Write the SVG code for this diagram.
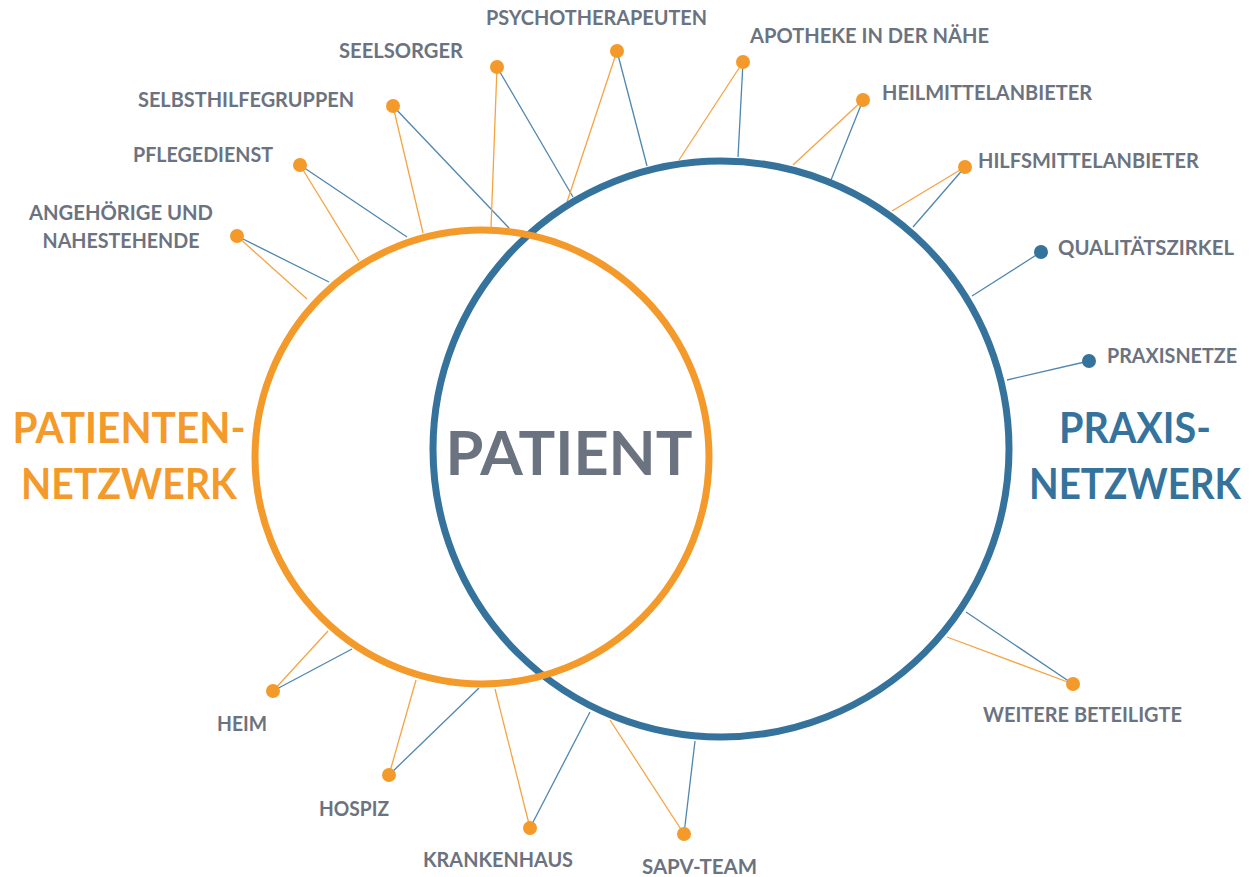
<svg xmlns="http://www.w3.org/2000/svg" width="1255" height="877" viewBox="0 0 1255 877">
<style>
.lbl{font-family:Lato,"Open Sans","Liberation Sans",sans-serif;font-weight:700;font-size:21px;fill:#6B7380}
.big{font-family:Lato,"Open Sans","Liberation Sans",sans-serif;font-weight:700;font-size:42px;text-anchor:middle}
.lo{stroke:#F5A443;stroke-width:1.3;fill:none}
.lb{stroke:#4F86AE;stroke-width:1.3;fill:none}
.do{fill:#F39A2B}
.db{fill:#35739D}
</style>
<rect width="1255" height="877" fill="#FFFFFF"/>
<g id="connectors">
<line class="lb" x1="237" y1="236" x2="329" y2="282"/>
<line class="lo" x1="237" y1="236" x2="307" y2="299"/>
<line class="lb" x1="300" y1="165" x2="407" y2="237"/>
<line class="lo" x1="300" y1="165" x2="359" y2="261"/>
<line class="lb" x1="393" y1="106" x2="509" y2="228"/>
<line class="lo" x1="393" y1="106" x2="423" y2="233"/>
<line class="lo" x1="497" y1="67" x2="491" y2="228"/>
<line class="lb" x1="497" y1="67" x2="573" y2="197"/>
<line class="lo" x1="617" y1="51" x2="567" y2="202"/>
<line class="lb" x1="617" y1="51" x2="647" y2="166"/>
<line class="lo" x1="743" y1="62" x2="679" y2="160"/>
<line class="lb" x1="743" y1="62" x2="738" y2="157"/>
<line class="lo" x1="863" y1="100" x2="793" y2="165"/>
<line class="lb" x1="863" y1="100" x2="831" y2="180"/>
<line class="lo" x1="965" y1="167" x2="892" y2="211"/>
<line class="lb" x1="965" y1="167" x2="913" y2="227"/>
<line class="lb" x1="1041" y1="252" x2="972" y2="296"/>
<line class="lb" x1="1089" y1="361" x2="1007" y2="380"/>
<line class="lb" x1="1073" y1="684" x2="966" y2="612"/>
<line class="lo" x1="1073" y1="684" x2="947" y2="637"/>
<line class="lo" x1="273" y1="691" x2="328" y2="631"/>
<line class="lb" x1="273" y1="691" x2="352" y2="649"/>
<line class="lo" x1="389" y1="775" x2="416" y2="680"/>
<line class="lb" x1="389" y1="775" x2="479" y2="688"/>
<line class="lo" x1="530" y1="828" x2="495" y2="689"/>
<line class="lb" x1="530" y1="828" x2="590" y2="712"/>
<line class="lo" x1="684" y1="834" x2="610" y2="720"/>
<line class="lb" x1="684" y1="834" x2="695" y2="741"/>
</g>
<g id="praxis-netzwerk">
<circle cx="721" cy="449" r="288" fill="none" stroke="#35739D" stroke-width="7"/>
<text class="big" x="1135" y="443" fill="#35739D" textLength="152" lengthAdjust="spacingAndGlyphs">PRAXIS-</text>
<text class="big" x="1135" y="499" fill="#35739D" font-size="40" textLength="212" lengthAdjust="spacingAndGlyphs">NETZWERK</text>
</g>
<g id="patienten-netzwerk">
<circle cx="482" cy="457" r="227" fill="none" stroke="#F39A2B" stroke-width="7"/>
<text class="big" x="129" y="443" fill="#F39A2B" textLength="233" lengthAdjust="spacingAndGlyphs">PATIENTEN-</text>
<text class="big" x="129" y="499" fill="#F39A2B" textLength="216" lengthAdjust="spacingAndGlyphs">NETZWERK</text>
</g>
<g id="patient">
<text x="569" y="475" font-family="Lato,'Open Sans','Liberation Sans',sans-serif" font-weight="700" font-size="61" fill="#6B7380" text-anchor="middle" textLength="247" lengthAdjust="spacingAndGlyphs">PATIENT</text>
</g>
<g id="angehoerige">
<circle class="do" cx="237" cy="236" r="7"/>
<text class="lbl" x="121" y="220" text-anchor="middle" textLength="184" lengthAdjust="spacingAndGlyphs">ANGEHÖRIGE UND</text>
<text class="lbl" x="121" y="248" text-anchor="middle" textLength="157" lengthAdjust="spacingAndGlyphs">NAHESTEHENDE</text>
</g>
<g id="pflegedienst">
<circle class="do" cx="300" cy="165" r="7"/>
<text class="lbl" x="133" y="162" textLength="140" lengthAdjust="spacingAndGlyphs">PFLEGEDIENST</text>
</g>
<g id="selbsthilfegruppen">
<circle class="do" cx="393" cy="106" r="7"/>
<text class="lbl" x="138" y="107" textLength="216" lengthAdjust="spacingAndGlyphs">SELBSTHILFEGRUPPEN</text>
</g>
<g id="seelsorger">
<circle class="do" cx="497" cy="67" r="7"/>
<text class="lbl" x="339" y="58" textLength="124" lengthAdjust="spacingAndGlyphs">SEELSORGER</text>
</g>
<g id="psychotherapeuten">
<circle class="do" cx="617" cy="51" r="7"/>
<text class="lbl" x="486" y="25" textLength="221" lengthAdjust="spacingAndGlyphs">PSYCHOTHERAPEUTEN</text>
</g>
<g id="apotheke">
<circle class="do" cx="743" cy="62" r="7"/>
<text class="lbl" x="750" y="43" textLength="239" lengthAdjust="spacingAndGlyphs">APOTHEKE IN DER NÄHE</text>
</g>
<g id="heilmittelanbieter">
<circle class="do" cx="863" cy="100" r="7"/>
<text class="lbl" x="882" y="100" textLength="210" lengthAdjust="spacingAndGlyphs">HEILMITTELANBIETER</text>
</g>
<g id="hilfsmittelanbieter">
<circle class="do" cx="965" cy="167" r="7"/>
<text class="lbl" x="978" y="168" textLength="221" lengthAdjust="spacingAndGlyphs">HILFSMITTELANBIETER</text>
</g>
<g id="qualitaetszirkel">
<circle class="db" cx="1041" cy="252" r="7"/>
<text class="lbl" x="1058" y="255" textLength="176" lengthAdjust="spacingAndGlyphs">QUALITÄTSZIRKEL</text>
</g>
<g id="praxisnetze">
<circle class="db" cx="1089" cy="361" r="7"/>
<text class="lbl" x="1107" y="363" textLength="130" lengthAdjust="spacingAndGlyphs">PRAXISNETZE</text>
</g>
<g id="weitere-beteiligte">
<circle class="do" cx="1073" cy="684" r="7"/>
<text class="lbl" x="983" y="722" textLength="199" lengthAdjust="spacingAndGlyphs">WEITERE BETEILIGTE</text>
</g>
<g id="heim">
<circle class="do" cx="273" cy="691" r="7"/>
<text class="lbl" x="217" y="731" textLength="50" lengthAdjust="spacingAndGlyphs">HEIM</text>
</g>
<g id="hospiz">
<circle class="do" cx="389" cy="775" r="7"/>
<text class="lbl" x="319" y="816" textLength="70" lengthAdjust="spacingAndGlyphs">HOSPIZ</text>
</g>
<g id="krankenhaus">
<circle class="do" cx="530" cy="828" r="7"/>
<text class="lbl" x="423" y="867" textLength="150" lengthAdjust="spacingAndGlyphs">KRANKENHAUS</text>
</g>
<g id="sapv-team">
<circle class="do" cx="684" cy="834" r="7"/>
<text class="lbl" x="642" y="874" textLength="115" lengthAdjust="spacingAndGlyphs">SAPV-TEAM</text>
</g>
</svg>
